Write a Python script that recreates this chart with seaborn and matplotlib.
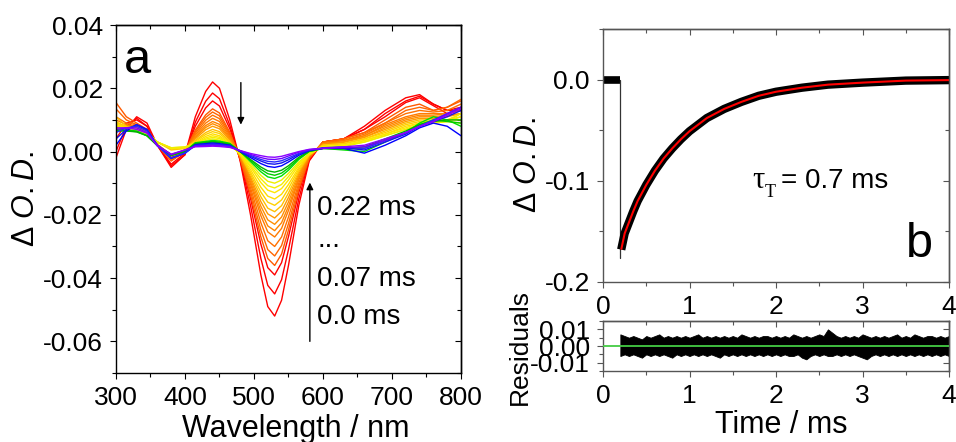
import numpy as np
import pandas as pd
import matplotlib
matplotlib.use("Agg")
import matplotlib.pyplot as plt
from matplotlib.ticker import MultipleLocator, FormatStrFormatter
import seaborn as sns

sns.set_theme(style="ticks")
plt.rcParams["font.family"] = ["Liberation Sans", "DejaVu Sans"]
plt.rcParams["axes.unicode_minus"] = False
plt.rcParams["mathtext.fontset"] = "custom"
plt.rcParams["mathtext.it"] = "Liberation Sans:italic"
plt.rcParams["mathtext.rm"] = "Liberation Sans"
plt.rcParams["text.color"] = "black"
plt.rcParams["axes.labelcolor"] = "black"
plt.rcParams["xtick.labelcolor"] = "black"
plt.rcParams["ytick.labelcolor"] = "black"

# ---------------- data: panel a (transient spectra) ----------------
wavelengths = [300, 315, 330, 345, 360, 380, 400, 415, 430, 440, 450, 465, 480, 495, 510,
               520, 530, 540, 550, 565, 580, 600, 630, 660, 690, 720, 740, 760, 780, 800]

R1 = [-0.002, 0.007, 0.011, 0.009, 0.002, -0.005, -0.001, 0.011, 0.019, 0.022, 0.020, 0.010, -0.003, -0.020, -0.039, -0.049, -0.052, -0.047, -0.036, -0.017, -0.003, 0.003, 0.004, 0.008, 0.013, 0.017, 0.018, 0.015, 0.013, 0.013]
R2 = [0.000, 0.008, 0.0105, 0.008, 0.002, -0.0045, -0.001, 0.0093, 0.0159, 0.0185, 0.0167, 0.0083, -0.0027, -0.0171, -0.0338, -0.0423, -0.045, -0.0405, -0.031, -0.0149, -0.0027, 0.003, 0.004, 0.007, 0.012, 0.016, 0.0175, 0.015, 0.013, 0.014]
R3 = [0.004, 0.009, 0.010, 0.008, 0.002, -0.004, -0.0005, 0.008, 0.0138, 0.016, 0.0144, 0.0072, -0.0023, -0.0148, -0.0293, -0.0367, -0.039, -0.0351, -0.0269, -0.0129, -0.0023, 0.003, 0.004, 0.007, 0.011, 0.0155, 0.017, 0.0145, 0.012, 0.013]
O1 = [0.0155, 0.011, 0.009, 0.007, 0.002, -0.003, 0.0, 0.0068, 0.0116, 0.0135, 0.0122, 0.0061, -0.0022, -0.0137, -0.027, -0.0338, -0.036, -0.0324, -0.0248, -0.0119, -0.0022, 0.003, 0.004, 0.006, 0.010, 0.014, 0.015, 0.013, 0.014, 0.016]
O2 = [0.0135, 0.010, 0.0085, 0.007, 0.002, -0.0028, 0.0, 0.0063, 0.0108, 0.0125, 0.0113, 0.0056, -0.002, -0.0125, -0.0248, -0.031, -0.033, -0.0297, -0.0228, -0.0109, -0.002, 0.003, 0.004, 0.006, 0.009, 0.013, 0.014, 0.013, 0.014, 0.0165]
O3 = [0.011, 0.009, 0.0085, 0.0068, 0.002, -0.0025, 0.0, 0.0058, 0.0099, 0.0115, 0.0104, 0.0052, -0.0018, -0.0114, -0.0225, -0.0282, -0.030, -0.027, -0.0207, -0.0099, -0.0018, 0.003, 0.0035, 0.0055, 0.009, 0.012, 0.013, 0.0125, 0.013, 0.015]
O4 = [0.010, 0.0085, 0.008, 0.0065, 0.002, -0.002, 0.0, 0.0053, 0.009, 0.0105, 0.0095, 0.0047, -0.0016, -0.0103, -0.0203, -0.0254, -0.027, -0.0243, -0.0186, -0.0089, -0.0016, 0.0025, 0.0035, 0.005, 0.0085, 0.011, 0.012, 0.012, 0.012, 0.014]
O5 = [0.009, 0.008, 0.008, 0.0065, 0.002, -0.0018, 0.0003, 0.0048, 0.0082, 0.0095, 0.0086, 0.0043, -0.0015, -0.0095, -0.0188, -0.0235, -0.025, -0.0225, -0.0173, -0.0083, -0.0015, 0.0025, 0.003, 0.005, 0.008, 0.0105, 0.0115, 0.0115, 0.012, 0.013]
O6 = [0.0085, 0.008, 0.0078, 0.006, 0.0022, -0.0015, 0.0004, 0.0044, 0.0076, 0.0088, 0.0079, 0.004, -0.0014, -0.0087, -0.0173, -0.0216, -0.023, -0.0207, -0.0159, -0.0076, -0.0014, 0.0025, 0.003, 0.0045, 0.0075, 0.010, 0.011, 0.011, 0.0115, 0.012]
O7 = [0.008, 0.0078, 0.0078, 0.006, 0.0023, -0.001, 0.0005, 0.004, 0.0069, 0.008, 0.0072, 0.0036, -0.0013, -0.008, -0.0158, -0.0197, -0.021, -0.0189, -0.0145, -0.0069, -0.0013, 0.002, 0.003, 0.0045, 0.007, 0.0095, 0.0105, 0.0105, 0.011, 0.012]
Y1 = [0.011, 0.008, 0.0075, 0.006, 0.003, 0.0005, 0.001, 0.0035, 0.006, 0.007, 0.0063, 0.0032, -0.0011, -0.0072, -0.0143, -0.0179, -0.019, -0.0171, -0.0131, -0.0063, -0.0011, 0.002, 0.0025, 0.004, 0.0065, 0.009, 0.010, 0.010, 0.010, 0.010]
Y2 = [0.0095, 0.0078, 0.0075, 0.006, 0.003, 0.0008, 0.001, 0.0032, 0.0054, 0.0063, 0.0057, 0.0028, -0.001, -0.0065, -0.0128, -0.016, -0.017, -0.0153, -0.0117, -0.0056, -0.001, 0.002, 0.0025, 0.004, 0.006, 0.0085, 0.0095, 0.0095, 0.0095, 0.009]
Y3 = [0.009, 0.0075, 0.0072, 0.0058, 0.003, 0.001, 0.0012, 0.0028, 0.0048, 0.0056, 0.005, 0.0025, -0.0009, -0.0057, -0.0113, -0.0141, -0.015, -0.0135, -0.0104, -0.005, -0.0009, 0.0015, 0.002, 0.0035, 0.0055, 0.008, 0.009, 0.0095, 0.010, 0.011]
Y4 = [0.0085, 0.0072, 0.007, 0.0058, 0.003, 0.001, 0.0013, 0.0025, 0.0043, 0.005, 0.0045, 0.0023, -0.0008, -0.0049, -0.0098, -0.0122, -0.013, -0.0117, -0.009, -0.0043, -0.0008, 0.0015, 0.002, 0.0035, 0.0055, 0.0075, 0.009, 0.0095, 0.010, 0.012]
Y5 = [0.008, 0.007, 0.007, 0.0055, 0.003, 0.0012, 0.0014, 0.0025, 0.0039, 0.0045, 0.0041, 0.0022, -0.0007, -0.0044, -0.0086, -0.0108, -0.0115, -0.0104, -0.0079, -0.0038, -0.0007, 0.0015, 0.002, 0.003, 0.005, 0.007, 0.0085, 0.009, 0.0095, 0.011]
Y6 = [0.0075, 0.007, 0.0068, 0.0055, 0.003, 0.0012, 0.0015, 0.0024, 0.0035, 0.004, 0.0036, 0.002, -0.0006, -0.0038, -0.0075, -0.0094, -0.010, -0.009, -0.0069, -0.0033, -0.0006, 0.0015, 0.0015, 0.003, 0.005, 0.007, 0.0085, 0.009, 0.0095, 0.012]
G1 = [0.007, 0.0068, 0.0065, 0.005, 0.002, -0.001, 0.0, 0.0028, 0.0032, 0.0035, 0.0033, 0.0026, 0.0, -0.0032, -0.0064, -0.008, -0.0085, -0.0077, -0.0059, -0.0025, 0.0, 0.001, 0.0005, 0.0, 0.003, 0.006, 0.009, 0.011, 0.010, 0.008]
G2 = [0.0068, 0.0066, 0.0063, 0.005, 0.002, -0.0012, 0.0, 0.0026, 0.003, 0.0032, 0.003, 0.0024, 0.0, -0.0028, -0.0056, -0.007, -0.0075, -0.0068, -0.0052, -0.0022, 0.0, 0.001, 0.0008, 0.001, 0.0035, 0.006, 0.0085, 0.010, 0.0095, 0.009]
G3 = [0.0065, 0.0065, 0.0062, 0.005, 0.0018, -0.0012, 0.0, 0.0024, 0.0028, 0.003, 0.0028, 0.0022, 0.0, -0.0025, -0.0049, -0.0061, -0.0065, -0.0059, -0.0045, -0.0018, 0.0002, 0.001, 0.001, 0.0015, 0.004, 0.0065, 0.0085, 0.0095, 0.010, 0.010]
B1 = [0.002, 0.0065, 0.0085, 0.007, 0.002, -0.002, -0.0005, 0.0022, 0.0025, 0.0027, 0.0025, 0.002, 0.0, -0.0019, -0.0038, -0.0047, -0.005, -0.0045, -0.0033, -0.0012, 0.0003, 0.001, 0.001, -0.0005, 0.002, 0.005, 0.0075, 0.009, 0.008, 0.005]
B2 = [0.004, 0.007, 0.0085, 0.0068, 0.002, -0.0022, -0.0005, 0.002, 0.0023, 0.0025, 0.0023, 0.0018, 0.0, -0.0015, -0.003, -0.0038, -0.004, -0.0036, -0.0026, -0.0008, 0.0004, 0.001, 0.0012, 0.0005, 0.003, 0.0055, 0.008, 0.0095, 0.011, 0.013]
B3 = [0.006, 0.0075, 0.008, 0.0065, 0.0018, -0.002, -0.0005, 0.0019, 0.0021, 0.0023, 0.0021, 0.0017, 0.0002, -0.0012, -0.0025, -0.0031, -0.0033, -0.0029, -0.002, -0.0006, 0.0005, 0.0012, 0.0015, 0.001, 0.0035, 0.006, 0.008, 0.010, 0.012, 0.014]
V1 = [0.007, 0.0075, 0.0075, 0.006, 0.002, -0.001, 0.0005, 0.0017, 0.0019, 0.002, 0.0019, 0.0015, 0.0003, -0.0009, -0.0019, -0.0024, -0.0025, -0.0022, -0.0014, -0.0002, 0.0006, 0.001, 0.0012, 0.0015, 0.0035, 0.006, 0.008, 0.0095, 0.012, 0.014]
V2 = [0.0075, 0.0075, 0.007, 0.0058, 0.0018, -0.0008, 0.0005, 0.0015, 0.0016, 0.0017, 0.0016, 0.0013, 0.0003, -0.0006, -0.0013, -0.0017, -0.0018, -0.0015, -0.0009, 0.0, 0.0007, 0.001, 0.0015, 0.002, 0.004, 0.006, 0.008, 0.0095, 0.0115, 0.0135]

curve_names = ["R1", "R2", "R3", "O1", "O2", "O3", "O4", "O5", "O6", "O7",
               "Y1", "Y2", "Y3", "Y4", "Y5", "Y6", "G1", "G2", "G3",
               "B1", "B2", "B3", "V1", "V2"]
curve_values = [R1, R2, R3, O1, O2, O3, O4, O5, O6, O7,
                Y1, Y2, Y3, Y4, Y5, Y6, G1, G2, G3, B1, B2, B3, V1, V2]
curve_colors = ["#FF0000", "#FF0000", "#FF0000",
                "#FF5A00", "#FF6600", "#FF7000", "#FF7A00", "#FF8400", "#FF8E00", "#FF9A00",
                "#FFC000", "#FFD000", "#FFDC00", "#FFE600", "#F5EE00", "#EEEE00",
                "#00E000", "#00CC00", "#00B400",
                "#0000FF", "#1414F0", "#2828FF", "#7000FF", "#8A00FF"]

# ---------------- data: panel b (kinetic trace) ----------------
pre_t = [0.0, 0.2]
pre_v = [0.0, 0.0]
drop_t = [0.2, 0.2]
drop_v = [0.0, -0.176]
fit_t = [0.21, 0.25, 0.3, 0.35, 0.4, 0.5, 0.6, 0.7, 0.8, 0.9, 1.0, 1.2, 1.4, 1.6,
         1.8, 2.0, 2.3, 2.6, 3.0, 3.5, 4.0]
fit_v = [-0.168, -0.152, -0.141, -0.130, -0.120, -0.104, -0.090, -0.078, -0.068, -0.059,
         -0.051, -0.038, -0.029, -0.022, -0.016, -0.012, -0.008, -0.005, -0.003, -0.001, -0.0005]

res_t = [0.20, 0.25, 0.30, 0.35, 0.40, 0.45, 0.50, 0.55, 0.60, 0.65, 0.70, 0.75, 0.80, 0.85, 0.90,
         0.95, 1.00, 1.05, 1.10, 1.15, 1.20, 1.25, 1.30, 1.35, 1.40, 1.45, 1.50, 1.55, 1.60, 1.65,
         1.70, 1.75, 1.80, 1.85, 1.90, 1.95, 2.00, 2.05, 2.10, 2.15, 2.20, 2.25, 2.30, 2.35, 2.40,
         2.45, 2.50, 2.55, 2.60, 2.65, 2.70, 2.75, 2.80, 2.85, 2.90, 2.95, 3.00, 3.05, 3.10, 3.15,
         3.20, 3.25, 3.30, 3.35, 3.40, 3.45, 3.50, 3.55, 3.60, 3.65, 3.70, 3.75, 3.80, 3.85, 3.90,
         3.95, 4.00]
res_upper = [0.007, 0.006, 0.005, 0.006, 0.005, 0.004, 0.006, 0.005, 0.006, 0.007,
             0.005, 0.006, 0.005, 0.006, 0.005, 0.006, 0.005, 0.006, 0.007, 0.005,
             0.006, 0.005, 0.006, 0.005, 0.006, 0.005, 0.006, 0.005, 0.007, 0.006,
             0.005, 0.006, 0.005, 0.006, 0.006, 0.005, 0.006, 0.005, 0.006, 0.005,
             0.007, 0.006, 0.005, 0.006, 0.005, 0.006, 0.007, 0.006, 0.010, 0.008,
             0.006, 0.005, 0.006, 0.005, 0.006, 0.005, 0.007, 0.006, 0.005, 0.006,
             0.005, 0.006, 0.005, 0.006, 0.007, 0.005, 0.006, 0.005, 0.007, 0.006,
             0.005, 0.006, 0.006, 0.005, 0.006, 0.005, 0.006]
res_lower = [-0.006, -0.005, -0.006, -0.005, -0.006, -0.007, -0.005, -0.006, -0.005, -0.006,
             -0.005, -0.006, -0.007, -0.005, -0.006, -0.005, -0.006, -0.005, -0.006, -0.005,
             -0.006, -0.005, -0.006, -0.007, -0.005, -0.006, -0.005, -0.006, -0.005, -0.006,
             -0.005, -0.006, -0.005, -0.006, -0.005, -0.006, -0.005, -0.006, -0.005, -0.006,
             -0.006, -0.005, -0.007, -0.008, -0.006, -0.005, -0.006, -0.005, -0.006, -0.006,
             -0.005, -0.006, -0.005, -0.006, -0.005, -0.006, -0.007, -0.008, -0.006, -0.005,
             -0.006, -0.005, -0.006, -0.005, -0.006, -0.005, -0.006, -0.005, -0.006, -0.005,
             -0.006, -0.005, -0.006, -0.005, -0.006, -0.005, -0.006]

# ---------------- figure ----------------
fig = plt.figure(figsize=(9.56, 4.42), dpi=100)
ax1 = fig.add_axes([0.1213, 0.1561, 0.3609, 0.7873])
ax2 = fig.add_axes([0.6308, 0.362, 0.3619, 0.5724])
ax3 = fig.add_axes([0.6308, 0.1606, 0.3619, 0.1131])

TICK_FS = 19


def style_axes(ax, xmaj, xmin, ymaj, ymin, color, yfmt):
    ax.set_facecolor("white")
    for s in ax.spines.values():
        s.set_visible(True)
        s.set_color(color)
        s.set_linewidth(1.0)
    ax.xaxis.set_major_locator(MultipleLocator(xmaj))
    ax.xaxis.set_minor_locator(MultipleLocator(xmin))
    ax.yaxis.set_major_locator(MultipleLocator(ymaj))
    ax.yaxis.set_minor_locator(MultipleLocator(ymin))
    ax.yaxis.set_major_formatter(FormatStrFormatter(yfmt))
    ax.tick_params(which="both", direction="out", top=False, right=False,
                   color=color, labelcolor="black", labelsize=TICK_FS, pad=5, width=0.8)
    ax.tick_params(which="major", length=4.5)
    ax.tick_params(which="minor", length=3)
    # mirrored ticks pointing inward on top and right
    sx = ax.secondary_xaxis("top")
    sx.xaxis.set_major_locator(MultipleLocator(xmaj))
    sx.xaxis.set_minor_locator(MultipleLocator(xmin))
    sx.tick_params(axis="x", which="both", direction="in", labeltop=False, color=color, width=0.8)
    sx.tick_params(which="major", length=4.5)
    sx.tick_params(which="minor", length=3)
    sy = ax.secondary_yaxis("right")
    sy.yaxis.set_major_locator(MultipleLocator(ymaj))
    sy.yaxis.set_minor_locator(MultipleLocator(ymin))
    sy.tick_params(axis="y", which="both", direction="in", labelright=False, color=color, width=0.8)
    sy.tick_params(which="major", length=4.5)
    sy.tick_params(which="minor", length=3)
    for sec in (sx, sy):
        for s in sec.spines.values():
            s.set_color(color)
            s.set_linewidth(1.0)


# ---- panel a ----
rows = []
for name, vals in zip(curve_names, curve_values):
    for wl, v in zip(wavelengths, vals):
        rows.append({"wl": wl, "od": v, "curve": name})
df = pd.DataFrame(rows)
palette = dict(zip(curve_names, curve_colors))
sns.lineplot(data=df, x="wl", y="od", hue="curve", hue_order=curve_names, palette=palette,
             estimator=None, sort=False, legend=False, lw=1.0, ax=ax1)
ax1.set_xlim(300, 800)
ax1.set_ylim(-0.07, 0.04)
ax1.set_xlabel("")
ax1.set_ylabel("")
style_axes(ax1, 100, 50, 0.02, 0.01, "black", "%.2f")

ax1.annotate("", xy=(481, 0.0085), xytext=(481, 0.0218),
             arrowprops=dict(arrowstyle="-|>", color="black", lw=1.0, mutation_scale=10, shrinkA=0, shrinkB=0))
ax1.annotate("", xy=(581, -0.0098), xytext=(581, -0.060),
             arrowprops=dict(arrowstyle="-|>", color="black", lw=1.0, mutation_scale=10, shrinkA=0, shrinkB=0))
for txt, yv in [("0.22 ms", -0.0177), ("...", -0.0278), ("0.07 ms", -0.0404), ("0.0 ms", -0.0524)]:
    ax1.text(592, yv, txt, fontsize=20, ha="left", va="center", color="black")
ax1.text(312, 0.0249, "a", fontsize=35, ha="left", va="baseline", color="black")

# ---- panel b ----
GRAY = "#555555"
sns.lineplot(x=pre_t, y=pre_v, color="black", lw=5.5, ax=ax2, solid_capstyle="butt")
ax2.plot(drop_t, drop_v, color="#333333", lw=0.9)
sns.lineplot(x=fit_t, y=fit_v, color="black", lw=6.0, ax=ax2, solid_capstyle="butt")
sns.lineplot(x=fit_t, y=fit_v, color="#FF0000", lw=1.5, ax=ax2, solid_capstyle="butt")
ax2.set_xlim(0, 4)
ax2.set_ylim(-0.2, 0.05)
ax2.set_xlabel("")
ax2.set_ylabel("")
style_axes(ax2, 1, 0.5, 0.1, 0.05, GRAY, "%.1f")
ax2.set_xticks([0, 1, 2, 3, 4])
ax2.set_xticklabels(["0", "1", "2", "3", "4"])
ax2.text(1.72, -0.107, "τ", fontsize=22, family="Liberation Serif", ha="left", va="baseline")
ax2.text(1.87, -0.116, "T", fontsize=13, family="Liberation Serif", ha="left", va="baseline")
ax2.text(2.06, -0.107, "= 0.7 ms", fontsize=20, ha="left", va="baseline")
ax2.text(3.5, -0.175, "b", fontsize=35, ha="left", va="baseline")

# ---- residuals ----
ax3.fill_between(res_t, res_lower, res_upper, color="black", lw=0.6)
ax3.axhline(0, color="#44CC44", lw=1.3, zorder=5)
ax3.set_xlim(0, 4)
ax3.set_ylim(-0.015, 0.015)
style_axes(ax3, 1, 0.5, 0.01, 0.005, GRAY, "%.2f")
ax3.set_xticks([0, 1, 2, 3, 4])
ax3.set_xticklabels(["0", "1", "2", "3", "4"])

# ---- axis labels ----
fig.text(0.027, 0.55, "Δ $\\mathit{O.D.}$", rotation=90, fontsize=22, ha="center", va="center")
fig.text(0.3096, 0.0113, "Wavelength / nm", fontsize=22, ha="center", va="baseline")
fig.text(0.552, 0.627, "Δ $\\mathit{O.D.}$", rotation=90, fontsize=22, ha="center", va="center")
fig.text(0.544, 0.215, "Residuals", rotation=90, fontsize=19, ha="center", va="center")
fig.text(0.817, 0.020, "Time / ms", fontsize=22, ha="center", va="baseline")

fig.savefig("out.png", dpi=100, facecolor="white")
